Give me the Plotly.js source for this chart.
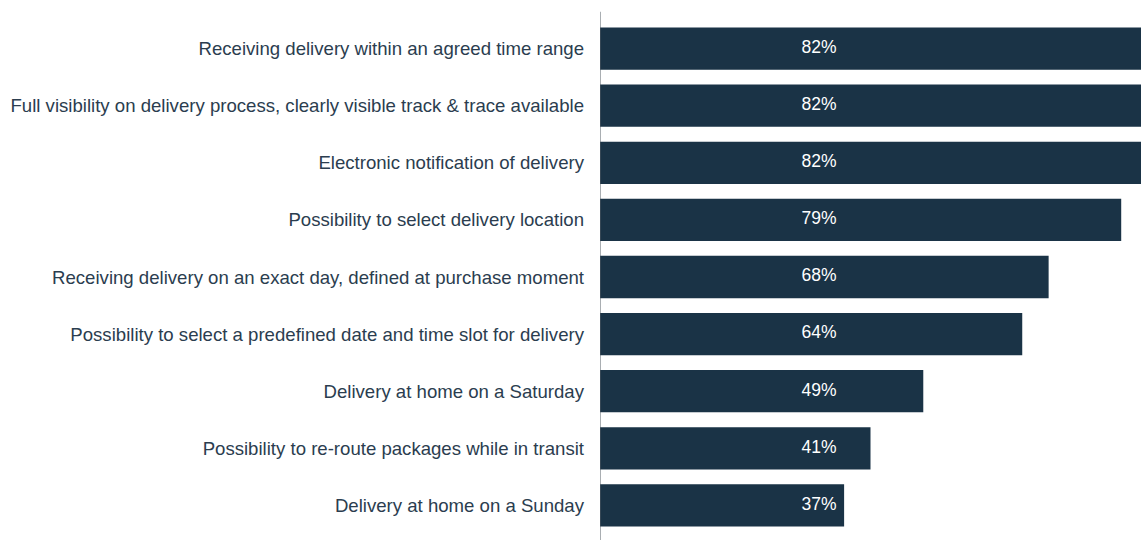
<!DOCTYPE html>
<html><head><meta charset="utf-8">
<script src="https://cdn.plot.ly/plotly-3.0.1.min.js"></script>
<style>html,body{margin:0;padding:0;background:#fff}#chart{width:1141px;height:540px}</style>
</head><body><div id="chart"></div>
<script>
const categories = [
  "Receiving delivery within an agreed time range",
  "Full visibility on delivery process, clearly visible track & trace available",
  "Electronic notification of delivery",
  "Possibility to select delivery location",
  "Receiving delivery on an exact day, defined at purchase moment",
  "Possibility to select a predefined date and time slot for delivery",
  "Delivery at home on a Saturday",
  "Possibility to re-route packages while in transit",
  "Delivery at home on a Sunday"
];
const values = [82, 82, 82, 79, 68, 64, 49, 41, 37];
const valueLabels = values.map(v => v + "%");

const barColor = "#1a3346";
const labelX = 33.2;

const traces = [
  {
    type: "bar", orientation: "h",
    y: categories, x: values,
    marker: {color: barColor},
    width: 0.74,
    hoverinfo: "skip"
  },
  {
    type: "scatter", mode: "text",
    y: categories, x: categories.map(() => labelX),
    text: valueLabels,
    textfont: {color: "#ffffff", size: 17.5, family: "'Liberation Sans', Arial, sans-serif"},
    textposition: "middle center",
    hoverinfo: "skip"
  }
];

const layout = {
  width: 1141, height: 540,
  margin: {l: 600, r: 0, t: 20, b: 6, pad: 0},
  paper_bgcolor: "#fff", plot_bgcolor: "#fff",
  showlegend: false,
  xaxis: {range: [0, 82], showgrid: false, zeroline: false, showline: false, showticklabels: false, fixedrange: true},
  yaxis: {
    autorange: "reversed", showgrid: false, zeroline: false, showline: false,
    ticks: "", ticklabelstandoff: 15,
    tickfont: {family: "'Liberation Sans', Arial, sans-serif", size: 18.6, color: "#2b3d4f"}
  },
  shapes: [{type: "line", xref: "x", yref: "paper", x0: 0, x1: 0, y0: -0.012, y1: 1.016,
    line: {color: "#555e66", width: 1}}]
};

Plotly.newPlot("chart", traces, layout, {displayModeBar: false, staticPlot: true});
</script></body></html>
